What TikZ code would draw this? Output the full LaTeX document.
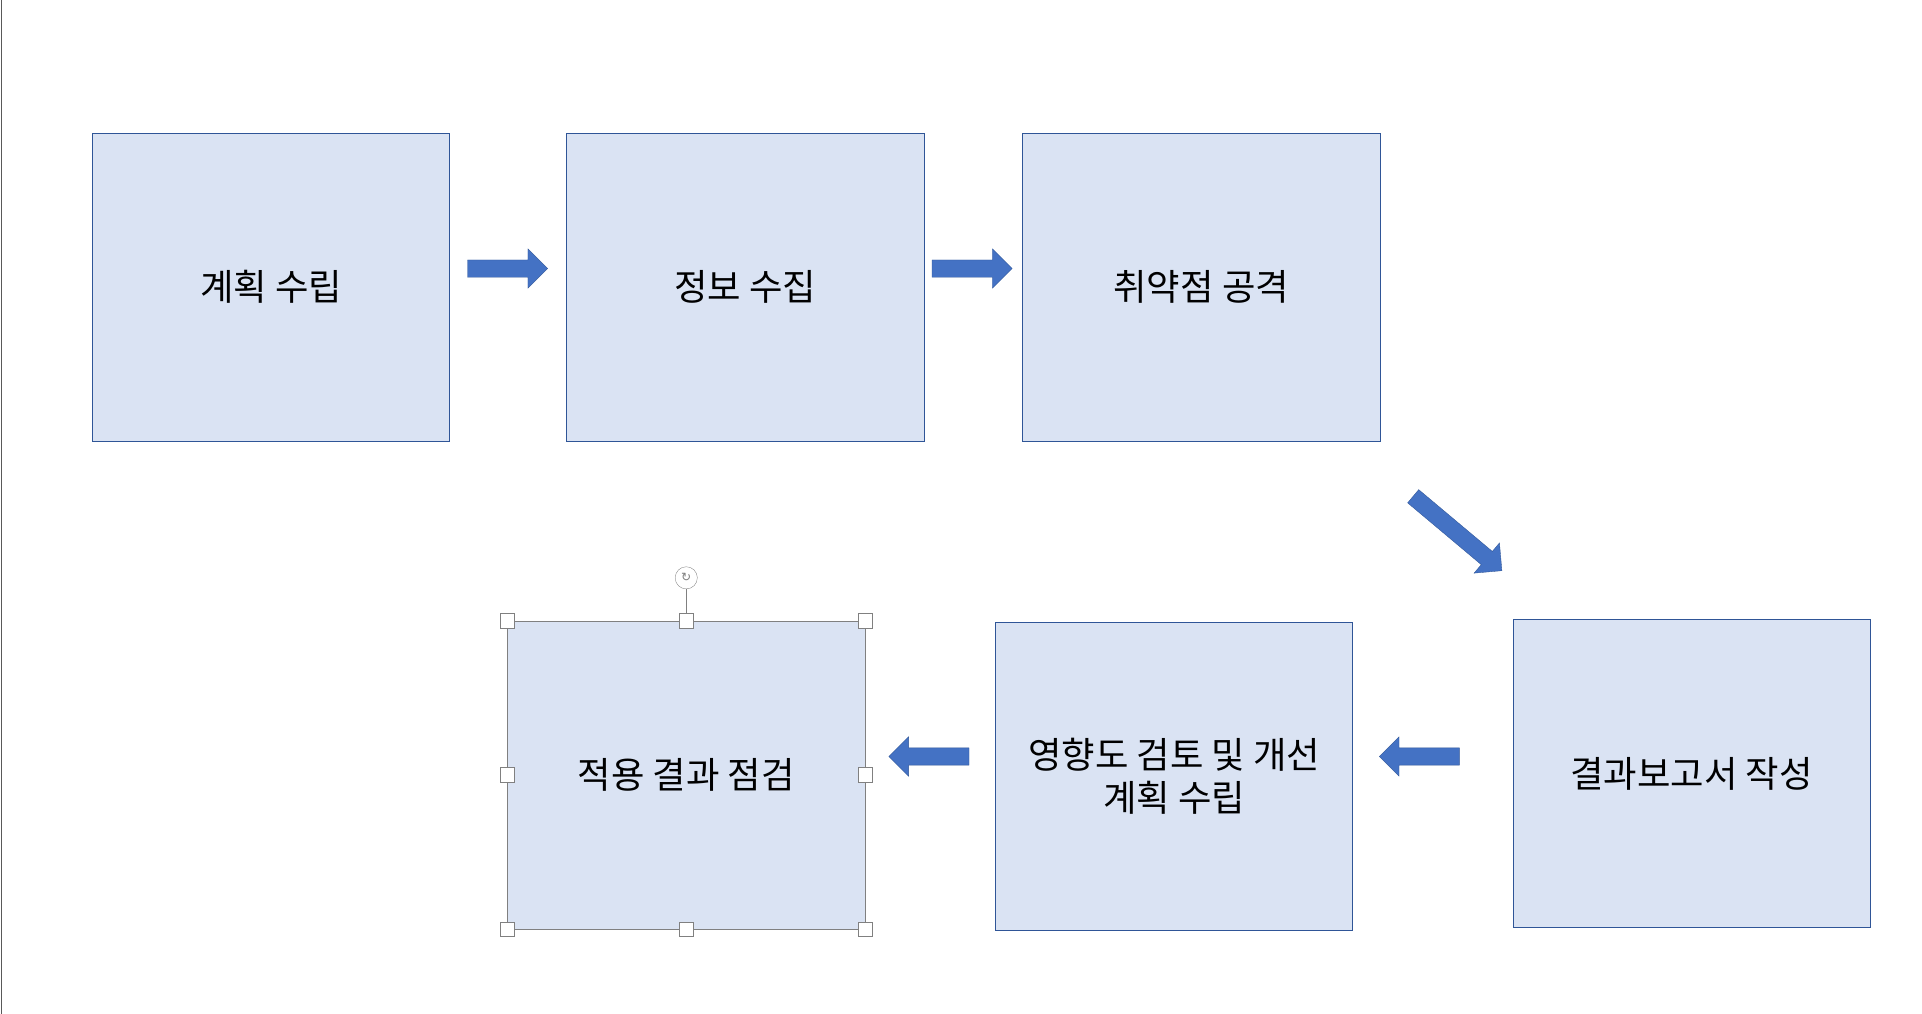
\documentclass[tikz,border=0pt]{standalone}
\usepackage{fontspec}
\setmainfont{Noto Sans CJK KR}
\newfontfamily\symfont{DejaVu Sans}
\definecolor{boxfill}{HTML}{DAE3F3}
\definecolor{boxline}{HTML}{2F5597}
\definecolor{arrfill}{HTML}{4472C4}
\newcommand{\myblockarrow}[3]{% name, angle, length
  \begin{scope}[shift={(#1)},rotate=#2]
  \filldraw[draw=boxline,line width=0.4pt,fill=arrfill]
    (-#3/2,-7) -- (#3/2-16,-7) -- (#3/2-16,-16) -- (#3/2,0) -- (#3/2-16,16) -- (#3/2-16,7) -- (-#3/2,7) -- cycle;
  \end{scope}}
\begin{document}
\begin{tikzpicture}[x=0.5mm,y=0.5mm,
  stepbox/.style={draw=boxline,line width=0.8pt,fill=boxfill,minimum width=145mm,minimum height=125mm,inner sep=0pt,align=center,font=\fontsize{42}{50}\selectfont},
  handle/.style={draw=gray,fill=white,line width=0.5pt,minimum size=6mm,inner sep=0pt}]
\useasboundingbox (0,0) rectangle (1560,-823);
\fill[white] (0,0) rectangle (1560,-823);
\draw[gray!70!black,line width=1pt] (1,0) -- (1,-823);
\node[stepbox] (a) at (220,-233) {계획 수립};
\node[stepbox] (b) at (605,-233) {정보 수집};
\node[stepbox] (c) at (975,-233) {취약점 공격};
\node[stepbox] (f) at (1373,-628) {결과보고서 작성};
\node[stepbox] (e) at (953,-630) {영향도 검토 및 개선\\계획 수립};
\node[stepbox,draw=gray] (d) at (557,-629) {적용 결과 점검};
\coordinate (ab) at (412,-218);
\coordinate (bc) at (789,-218);
\coordinate (cf) at (1183,-433);
\coordinate (fe) at (1152,-614);
\coordinate (ed) at (754,-614);
\myblockarrow{ab}{0}{65}
\myblockarrow{bc}{0}{65}
\myblockarrow{cf}{-40}{94}
\myblockarrow{fe}{180}{65}
\myblockarrow{ed}{180}{65}
% selection handles
\draw[gray] (d.north) -- (557,-476);
\node[circle,draw=gray,fill=white,minimum size=9mm,inner sep=0pt,font=\symfont\fontsize{14}{14}\selectfont\color{gray}] (rot) at (557,-469) {↻};
\foreach \p in {north west,north,north east,east,south east,south,south west,west}
  \node[handle] at (d.\p) {};
\end{tikzpicture}
\end{document}
